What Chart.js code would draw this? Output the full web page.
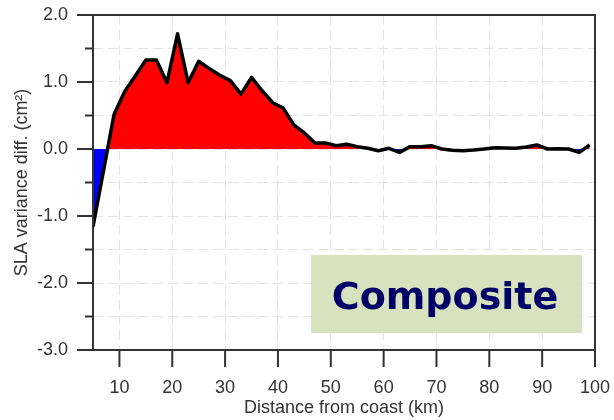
<!DOCTYPE html>
<html>
<head>
<meta charset="utf-8">
<script src="https://cdn.jsdelivr.net/npm/chart.js@4"></script>
<style>
    html, body { margin: 0; padding: 0; background: #fff; }
    #wrap { width: 614px; height: 420px; }
</style>
</head>
<body>
<div id="wrap"><canvas id="slaChart" width="614" height="420"></canvas></div>
<script>
const distanceKm = [5, 7, 9, 11, 13, 15, 17, 19, 21, 23, 25, 27, 29, 31, 33, 35, 37, 39, 41, 43,
    45, 47, 49, 51, 53, 55, 57, 59, 61, 63, 65, 67, 69, 71, 73, 75, 77, 79, 81, 83,
    85, 87, 89, 91, 93, 95, 97, 99];
const varianceDiff = [-1.16, -0.32, 0.52, 0.86, 1.09, 1.33, 1.33, 0.99, 1.72, 0.99, 1.31, 1.20, 1.10, 1.02, 0.82, 1.07, 0.87, 0.69, 0.61, 0.36,
    0.24, 0.09, 0.09, 0.05, 0.07, 0.035, 0.01, -0.025, 0.01, -0.05, 0.035, 0.035, 0.05, 0.0, -0.02, -0.025, -0.015, 0.0, 0.02, 0.015,
    0.01, 0.03, 0.06, 0.0, 0.005, 0.0, -0.05, 0.06];
const xTicks = [10, 20, 30, 40, 50, 60, 70, 80, 90, 100];
const yMajorTicks = [-3, -2, -1, 0, 1, 2];
const yMinorTicks = [-2.5, -1.5, -0.5, 0.5, 1.5];
const boxLabel = 'Composite';

const axisColor = '#333';
const gridColor = '#e4e4e4';
const labelFont = { family: 'Liberation Sans, Arial, sans-serif', size: 18 };

// frame, outward tick marks and the label box
const framePlugin = {
    id: 'frame',
    afterDraw(chart) {
        const ctx = chart.ctx;
        const x = chart.scales.x;
        const y = chart.scales.y;
        const a = chart.chartArea;
        ctx.save();
        ctx.strokeStyle = axisColor;
        ctx.lineWidth = 2;
        ctx.beginPath();
        ctx.moveTo(a.left, a.top);
        ctx.lineTo(a.left, a.bottom);
        ctx.lineTo(a.right, a.bottom);
        ctx.moveTo(a.left - 16, a.top);
        ctx.lineTo(a.right, a.top);
        ctx.lineTo(a.right, a.bottom + 17);
        yMajorTicks.forEach(v => {
            const py = y.getPixelForValue(v);
            ctx.moveTo(a.left - 16, py);
            ctx.lineTo(a.left, py);
        });
        yMinorTicks.forEach(v => {
            const py = y.getPixelForValue(v);
            ctx.moveTo(a.left - 8, py);
            ctx.lineTo(a.left, py);
        });
        xTicks.forEach(v => {
            const px = x.getPixelForValue(v);
            ctx.moveTo(px, a.bottom);
            ctx.lineTo(px, a.bottom + 17);
        });
        ctx.stroke();

        // label box in the lower right
        ctx.fillStyle = 'rgb(215, 227, 190)';
        ctx.fillRect(311, 255, 271, 78);
        ctx.fillStyle = '#000066';
        ctx.font = 'bold 38px "Comic Sans MS", "DejaVu Sans", sans-serif';
        ctx.textAlign = 'center';
        ctx.textBaseline = 'alphabetic';
        ctx.fillText(boxLabel, 445, 309);
        ctx.restore();
    }
};

function drawChart(chartId) {
    const ctx = document.getElementById(chartId).getContext('2d');
    const points = distanceKm.map((d, i) => ({ x: d, y: varianceDiff[i] }));

    new Chart(ctx, {
        type: 'line',
        data: {
            datasets: [{
                data: points,
                borderColor: '#000',
                borderWidth: 3.5,
                borderJoinStyle: 'round',
                pointRadius: 0,
                tension: 0,
                fill: { target: 'origin', above: '#ff0000', below: '#0000ff' }
            }]
        },
        options: {
            responsive: false,
            animation: false,
            layout: { padding: { top: 15, right: 19, bottom: 0, left: 0 } },
            plugins: {
                legend: { display: false },
                tooltip: { enabled: false }
            },
            scales: {
                x: {
                    type: 'linear',
                    min: 5,
                    max: 100,
                    afterBuildTicks: scale => { scale.ticks = xTicks.map(v => ({ value: v })); },
                    afterFit: scale => {
                        scale.height = 70;
                        scale.paddingLeft = 0;
                        scale.paddingRight = 0;
                    },
                    grid: { color: gridColor, drawTicks: false },
                    border: { display: false, dash: [10, 5] },
                    ticks: { padding: 27, color: axisColor, font: labelFont, maxRotation: 0, autoSkip: false },
                    title: {
                        display: true,
                        text: 'Distance from coast (km)',
                        color: axisColor,
                        font: labelFont,
                        padding: { top: 0, bottom: 1 }
                    }
                },
                y: {
                    min: -3,
                    max: 2,
                    afterFit: scale => {
                        scale.width = 93;
                        scale.paddingTop = 0;
                        scale.paddingBottom = 0;
                    },
                    grid: { color: gridColor, drawTicks: false },
                    border: { display: false, dash: [10, 5] },
                    ticks: {
                        stepSize: 0.5,
                        padding: 25,
                        color: axisColor,
                        font: labelFont,
                        callback: v => Number.isInteger(v) ? v.toFixed(1) : ''
                    },
                    title: {
                        display: true,
                        text: 'SLA variance diff. (cm²)',
                        color: axisColor,
                        font: labelFont,
                        padding: { top: 11, bottom: 0 }
                    }
                }
            }
        },
        plugins: [framePlugin]
    });
}

document.addEventListener('DOMContentLoaded', () => {
    drawChart('slaChart');
});
</script>
</body>
</html>
